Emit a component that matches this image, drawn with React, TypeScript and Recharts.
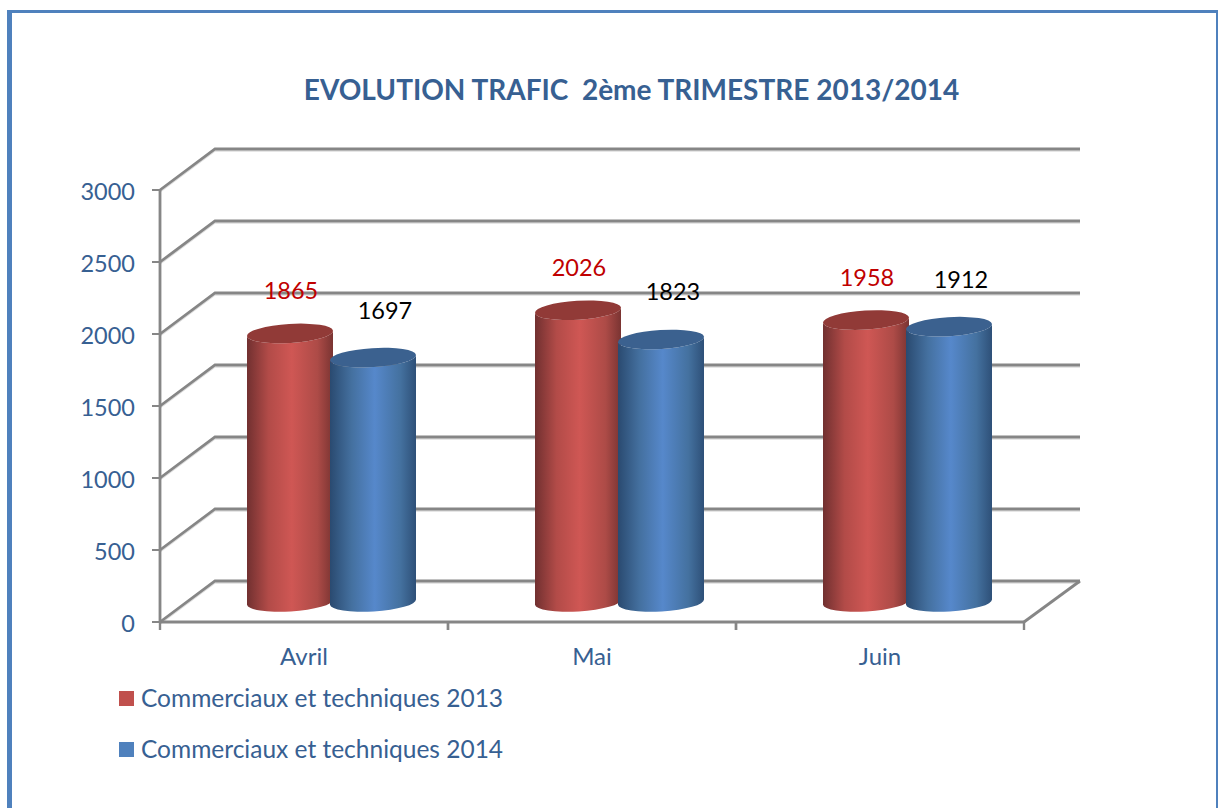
import { BarChart, Bar, XAxis, YAxis, CartesianGrid, Legend, LabelList } from 'recharts';

const categories = ['Avril', 'Mai', 'Juin'];
const trafic2013 = [1865, 2026, 1958];
const trafic2014 = [1697, 1823, 1912];
const yTicks = [0, 500, 1000, 1500, 2000, 2500, 3000];

const data = categories.map((name, i) => ({ name, a: trafic2013[i], b: trafic2014[i] }));

const FONT = 'Lato, sans-serif';
const TEXT = '#376092';
const AXIS = '#868686';
const W = 1218;
const H = 808;
const PLOT_W = 864;
// depth of the fake 3D box
const WALL_X = 55;
const WALL_Y = -41;
const BAR_X = 27;
const BAR_Y = -20;

const GridLine = (p: any) => {
  const { x1, x2, y1, index } = p;
  const d = `M${x1} ${y1}L${x1 + WALL_X} ${y1 + WALL_Y}L${x2 + WALL_X + 1} ${y1 + WALL_Y}`;
  return (
    <g key={`g-${index}`}>
      <path d={d} transform="translate(0 2)" fill="none" stroke="#dedede" strokeWidth={1.5} />
      <path d={d} fill="none" stroke={AXIS} strokeWidth={2.8} />
      {y1 > 600 && (
        <path d={`M${x2} ${y1}L${x2 + WALL_X + 1} ${y1 + WALL_Y}`} fill="none" stroke={AXIS} strokeWidth={2.8} />
      )}
    </g>
  );
};

const Cylinder = (p: any) => {
  const { x, y, width, height, gradient, topFill } = p;
  const rx = width / 2;
  const ry = 9.5;
  const tilt = 2.7;
  const cx = x + rx + BAR_X;
  const top = y + BAR_Y;
  const bot = y + height + BAR_Y;
  const arc = (sweep: number, ex: number, ey: number) => `A${rx} ${ry} -3.5 0 ${sweep} ${ex} ${ey}`;
  const body =
    `M${cx - rx} ${top + tilt}L${cx - rx} ${bot + tilt}` +
    arc(0, cx + rx, bot - tilt) +
    `L${cx + rx} ${top - tilt}` +
    arc(1, cx - rx, top + tilt) +
    'Z';
  const lid = `M${cx - rx} ${top + tilt}` + arc(1, cx + rx, top - tilt) + arc(1, cx - rx, top + tilt) + 'Z';
  return (
    <g>
      <path d={body} fill={`url(#${gradient})`} />
      <path d={lid} fill={topFill} />
    </g>
  );
};

const valueLabel = (color: string, dx: number, dy: number) => (p: any) => (
  <text
    x={p.x + p.width / 2 + BAR_X + dx}
    y={p.y + BAR_Y + dy}
    textAnchor="middle"
    dominantBaseline="central"
    fontFamily={FONT}
    fontSize={23.5}
    fill={color}
  >
    {p.value}
  </text>
);

const CategoryTick = (p: any) => {
  const { x, y, payload } = p;
  const band = PLOT_W / categories.length;
  return (
    <g>
      <line x1={x - band / 2} x2={x - band / 2} y1={y - 9} y2={y} stroke={AXIS} strokeWidth={2.4} />
      <line x1={x + band / 2} x2={x + band / 2} y1={y - 9} y2={y} stroke={AXIS} strokeWidth={2.4} />
      <text x={x} y={y + 25} textAnchor="middle" dominantBaseline="central" fontFamily={FONT} fontSize={24} fill={TEXT}>
        {payload.value}
      </text>
    </g>
  );
};

const LegendBox = ({ payload }: any) => (
  <div style={{ fontFamily: FONT, fontSize: 24.5, color: TEXT }}>
    {(payload || []).map((item: any) => (
      <div key={item.value} style={{ display: 'flex', alignItems: 'center', height: 51 }}>
        <span style={{ width: 15, height: 15, background: item.color, marginRight: 7, flex: 'none' }} />
        <span style={{ position: 'relative', top: -1 }}>{item.value}</span>
      </div>
    ))}
  </div>
);

const Stops = ({ id, colors }: { id: string; colors: string[] }) => (
  <linearGradient id={id} x1="0" y1="0" x2="1" y2="0">
    <stop offset="0%" stopColor={colors[0]} />
    <stop offset="25%" stopColor={colors[1]} />
    <stop offset="52%" stopColor={colors[2]} />
    <stop offset="82%" stopColor={colors[3]} />
    <stop offset="100%" stopColor={colors[4]} />
  </linearGradient>
);

export default function App() {
  return (
    <div style={{ position: 'absolute', left: 0, top: 0, width: W, height: H, background: '#fff', overflow: 'hidden' }}>
      <div
        style={{
          position: 'absolute',
          left: 7,
          top: 10,
          width: W - 7,
          height: H,
          boxSizing: 'border-box',
          borderLeft: '5px solid #4f81bd',
          borderTop: '3px solid #4f81bd',
          borderRight: '2px solid #4f81bd',
        }}
      />
      <div
        style={{
          position: 'absolute',
          left: 0,
          width: 1263,
          top: 71,
          textAlign: 'center',
          fontFamily: FONT,
          fontWeight: 700,
          fontSize: 28,
          lineHeight: '36px',
          color: TEXT,
          whiteSpace: 'pre',
        }}
      >
        EVOLUTION TRAFIC  2ème TRIMESTRE 2013/2014
      </div>
      <div style={{ position: 'absolute', left: 0, top: 0 }}>
        <BarChart
          width={W}
          height={H}
          data={data}
          margin={{ top: 190, left: 100, right: 194, bottom: 146 }}
          barSize={86}
          barGap={-3}
          style={{ background: 'transparent' }}
        >
          <defs>
            <Stops id="redCyl" colors={['#713030', '#b24b48', '#cf5754', '#ad4b47', '#7a3432']} />
            <Stops id="blueCyl" colors={['#2a4a70', '#44709f', '#5688cb', '#44719f', '#2e5078']} />
          </defs>
          <CartesianGrid vertical={false} horizontal={GridLine} />
          <XAxis
            dataKey="name"
            height={40}
            interval={0}
            axisLine={{ stroke: AXIS, strokeWidth: 2.8 }}
            tickLine={false}
            tick={CategoryTick}
          />
          <YAxis
            width={60}
            domain={[0, 3000]}
            ticks={yTicks}
            interval={0}
            axisLine={{ stroke: AXIS, strokeWidth: 2.8 }}
            tickLine={{ stroke: AXIS, strokeWidth: 2 }}
            tickSize={8}
            tickMargin={17}
            tick={{ fontFamily: FONT, fontSize: 23.5, fill: TEXT, dy: 1.5 }}
          />
          <Legend
            layout="vertical"
            align="center"
            verticalAlign="middle"
            content={<LegendBox />}
            wrapperStyle={{ left: 119, top: 673, width: 500, height: 102 }}
          />
          <Bar
            dataKey="a"
            name="Commerciaux et techniques 2013"
            fill="#c0504d"
            isAnimationActive={false}
            shape={(p: any) => <Cylinder {...p} gradient="redCyl" topFill="#913a37" />}
          >
            <LabelList dataKey="a" content={valueLabel('#c00000', 1, -43)} />
          </Bar>
          <Bar
            dataKey="b"
            name="Commerciaux et techniques 2014"
            fill="#4f81bd"
            isAnimationActive={false}
            shape={(p: any) => <Cylinder {...p} gradient="blueCyl" topFill="#3b618f" />}
          >
            <LabelList dataKey="b" content={valueLabel('#000000', 12, -48)} />
          </Bar>
        </BarChart>
      </div>
    </div>
  );
}
